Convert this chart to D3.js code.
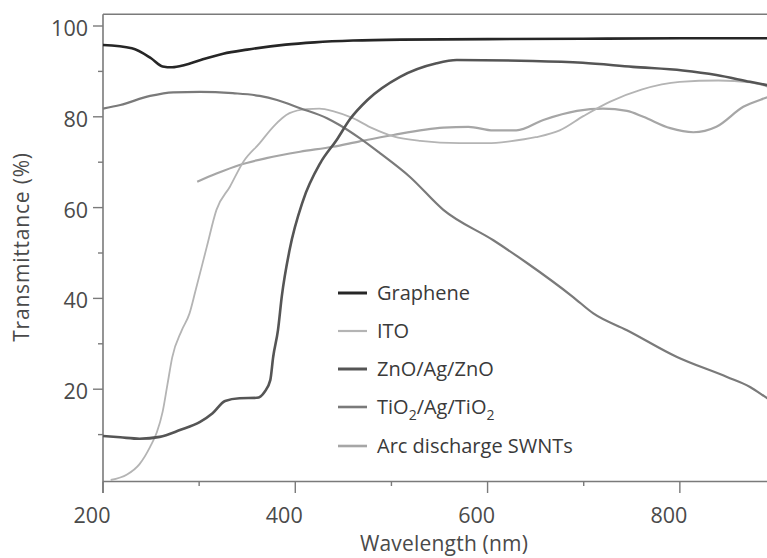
<!DOCTYPE html>
<html lang="en">
    <head>
        <meta charset="utf-8">
        <title>Transmittance</title>
        <script type="text/javascript" src="https://cdn.jsdelivr.net/npm/d3@7"></script>
        <style>
            body { margin: 0; background: #fff; }
            text { font-family: "Open Sans", "Noto Sans", sans-serif; }
        </style>
    </head>
    <body>
	    <script type="text/javascript">
			// values: [wavelength nm, transmittance %]
			var graphene = [[200,95.8],[230,95.1],[250,92.9],[262,91.1],[272,90.9],[285,91.4],[300,92.4],[325,93.9],
				[350,94.8],[390,95.9],[420,96.4],[460,96.8],[510,97.0],[600,97.1],[700,97.2],[800,97.3],[900,97.3]]
			var ito = [[208,0],[225,1.2],[238,3.5],[249,7.3],[256,10.5],[262,15.0],[267,21.0],[272,27.0],[282,33.0],
				[290,36.7],[296,41.5],[308,51.4],[318,59.5],[332,64.6],[346,70.1],[363,74.2],[377,77.8],[394,80.8],
				[412,81.7],[425,81.8],[440,81.2],[460,79.7],[480,77.5],[502,75.7],[530,74.7],[571,74.2],[600,74.2],
				[623,74.6],[650,75.5],[675,77.0],[700,80.2],[727,83.3],[760,86.0],[800,87.7],[840,88.0],[873,87.6],[900,86.0]]
			var zno = [[200,9.7],[218,9.4],[238,9.1],[259,9.5],[280,11.0],[301,12.8],[314,14.7],[327,17.4],[342,18.0],
				[360,18.1],[368,19.4],[374,22.0],[377,27.1],[382,33.0],[386,40.5],[394,50.6],[408,61.5],[426,69.8],
				[443,74.9],[457,79.5],[475,83.7],[509,88.8],[547,91.8],[568,92.5],[647,92.3],[699,91.9],[751,91.0],
				[803,90.2],[838,89.2],[873,87.7],[900,86.6]]
			var tio2 = [[200,81.8],[218,82.6],[249,84.6],[273,85.4],[301,85.5],[335,85.2],[363,84.6],[381,83.7],
				[405,81.9],[433,79.7],[446,78.2],[467,75.3],[488,72.0],[519,66.8],[554,59.5],[606,52.8],[641,47.8],
				[689,40.3],[710,36.7],[745,33.0],[797,27.1],[849,22.7],[873,20.5],[891,18.0],[900,16.8]]
			var arc = [[298,65.7],[318,67.5],[342,69.4],[370,70.9],[405,72.3],[439,73.4],[467,74.6],[502,76.0],
				[554,77.6],[580,77.8],[606,77.0],[630,77.0],[658,79.3],[693,81.3],[720,81.8],[745,81.3],[762,80.0],
				[790,77.5],[814,76.6],[838,77.8],[866,82.2],[891,84.3],[900,85.0]]

			var legendNames = ["Graphene", "ITO", "ZnO/Ag/ZnO", "TiO2/Ag/TiO2", "Arc discharge SWNTs"]
			var xMajor = [200, 400, 600, 800]
			var xMinor = [300, 500, 700]
			var yMajor = [20, 40, 60, 80, 100]
			var yMinor = [10, 30, 50, 70, 90]

			var series = [
				{ name: legendNames[0], data: graphene, color: "#262626", width: 2.6 },
				{ name: legendNames[1], data: ito, color: "#b4b4b4", width: 1.8 },
				{ name: legendNames[2], data: zno, color: "#555", width: 2.6 },
				{ name: legendNames[3], data: tio2, color: "#7a7a7a", width: 2.2 },
				{ name: legendNames[4], data: arc, color: "#a6a6a6", width: 2.2 }
			]

			var svg = d3.select("body").append("svg")
				.attr("width", 767)
				.attr("height", 558)

			var x = d3.scaleLinear().domain([200, 900]).range([103, 776])
			var y = d3.scaleLinear().domain([0, 100]).range([480, 26])

			var axisColor = "#7a7a7a"
			var textColor = "#4a4a4a"

			// frame: top line, left axis, bottom axis
			svg.append("line")
				.attr("x1", x(200)).attr("x2", 767)
				.attr("y1", y(102.6)).attr("y2", y(102.6))
				.attr("stroke", axisColor).attr("stroke-width", 1.6)
			svg.append("line")
				.attr("x1", x(200)).attr("x2", x(200))
				.attr("y1", y(102.6)).attr("y2", y(0) + 13)
				.attr("stroke", axisColor).attr("stroke-width", 1.6)
			svg.append("line")
				.attr("x1", x(200)).attr("x2", 767)
				.attr("y1", y(0) + 1.5).attr("y2", y(0) + 1.5)
				.attr("stroke", axisColor).attr("stroke-width", 1.6)

			// x ticks
			svg.selectAll(".xmaj").data(xMajor).enter().append("line")
				.attr("x1", x).attr("x2", x)
				.attr("y1", y(0) + 1.5).attr("y2", y(0) + 13)
				.attr("stroke", axisColor).attr("stroke-width", 1.4)
			svg.selectAll(".xmin").data(xMinor).enter().append("line")
				.attr("x1", x).attr("x2", x)
				.attr("y1", y(0) + 1.5).attr("y2", y(0) + 6)
				.attr("stroke", axisColor).attr("stroke-width", 1.4)
			svg.selectAll(".xlab").data(xMajor).enter().append("text")
				.attr("x", function(d){ return x(d) - 11 })
				.attr("y", 523)
				.attr("text-anchor", "middle")
				.attr("font-size", 21.5)
				.attr("fill", textColor)
				.text(function(d){ return d })

			// y ticks
			svg.selectAll(".ymaj").data(yMajor).enter().append("line")
				.attr("x1", x(200) - 10).attr("x2", x(200))
				.attr("y1", y).attr("y2", y)
				.attr("stroke", axisColor).attr("stroke-width", 1.4)
			svg.selectAll(".ymin").data(yMinor).enter().append("line")
				.attr("x1", x(200) - 5).attr("x2", x(200))
				.attr("y1", y).attr("y2", y)
				.attr("stroke", axisColor).attr("stroke-width", 1.4)
			svg.selectAll(".ylab").data(yMajor).enter().append("text")
				.attr("x", 88)
				.attr("y", function(d){ return y(d) + 10 })
				.attr("text-anchor", "end")
				.attr("font-size", 21.5)
				.attr("fill", textColor)
				.text(function(d){ return d })

			// axis titles
			svg.append("text")
				.attr("x", 444).attr("y", 551)
				.attr("text-anchor", "middle")
				.attr("font-size", 21)
				.attr("letter-spacing", 0.2)
				.attr("fill", textColor)
				.text("Wavelength (nm)")
			svg.append("text")
				.attr("transform", "translate(29,247) rotate(-90)")
				.attr("text-anchor", "middle")
				.attr("font-size", 21)
				.attr("letter-spacing", 0.8)
				.attr("fill", textColor)
				.text("Transmittance (%)")

			// curves
			var line = d3.line()
				.x(function(d){ return x(d[0]) })
				.y(function(d){ return y(d[1]) })
				.curve(d3.curveMonotoneX)

			var drawOrder = [4, 1, 3, 2, 0]
			drawOrder.forEach(function(i){
				var s = series[i]
				svg.append("path")
					.attr("d", line(s.data))
					.attr("fill", "none")
					.attr("stroke", s.color)
					.attr("stroke-width", s.width)
					.attr("stroke-linejoin", "round")
			})

			// legend
			var legendY = [293, 331, 369, 407, 446]
			series.forEach(function(s, i){
				svg.append("line")
					.attr("x1", 338).attr("x2", 367)
					.attr("y1", legendY[i]).attr("y2", legendY[i])
					.attr("stroke", s.color)
					.attr("stroke-width", s.width + 0.4)
				var t = svg.append("text")
					.attr("x", 377).attr("y", legendY[i] + 7)
					.attr("font-size", 20)
					.attr("fill", "#3a3a3a")
				if (s.name == "TiO2/Ag/TiO2") {
					t.append("tspan").text("TiO")
					t.append("tspan").attr("dy", 6).attr("font-size", 14).text("2")
					t.append("tspan").attr("dy", -6).text("/Ag/TiO")
					t.append("tspan").attr("dy", 6).attr("font-size", 14).text("2")
				} else {
					t.text(s.name)
				}
			})
        </script>
	</body>
</html>
